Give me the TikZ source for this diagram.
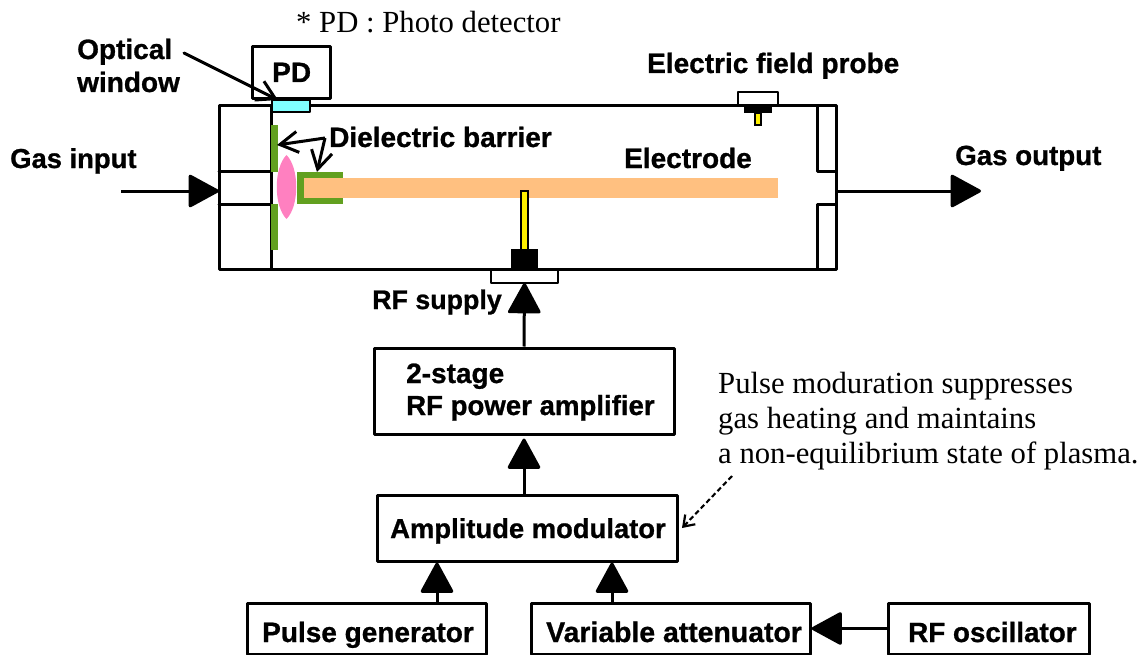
\documentclass[tikz,border=0pt]{standalone}
\usepackage{fontspec}
\setmainfont{Liberation Serif}
\newfontfamily\gothic[FakeBold=0.9]{Liberation Sans Bold}
\usetikzlibrary{arrows.meta,calc}
\definecolor{barrier}{RGB}{98,160,32}
\definecolor{elec}{RGB}{255,192,128}
\definecolor{plasma}{RGB}{255,128,192}
\definecolor{win}{RGB}{128,255,255}
\definecolor{pin}{RGB}{255,240,0}
\tikzset{
 x=1pt,y=-1pt,
 wall/.style={draw=black,line width=3pt,line join=round,line cap=round},
 thinwall/.style={draw=black,line width=2.6pt,line join=round},
 flowline/.style={draw=black,line width=3pt},
 bigtip/.style={-{Triangle[length=32pt,width=34pt,round]}},
 opentip/.style={-{Straight Barb[length=18pt,width=21pt,line width=3pt]}},
 lab/.style={font=\gothic\fontsize{#1}{32}\selectfont,inner sep=0pt,anchor=base west,text=black},
 lab/.default=28,
 note/.style={font=\fontsize{30.7}{35}\selectfont,inner sep=0pt,anchor=base west,text=black},
 blockbox/.style={draw=black,line width=3pt,fill=white,line join=round,inner sep=0pt},
}
\begin{document}
\begin{tikzpicture}
\useasboundingbox (0,0) rectangle (1147,655);
% chamber
\draw[wall] (219,106) rectangle (836,269);
\draw[wall] (271,106) -- (271,269);
\draw[wall] (219,172) -- (271,172);
\draw[wall] (219,204) -- (271,204);
\draw[wall] (817,106) -- (817,172) -- (836,172);
\draw[wall] (817,269) -- (817,204) -- (836,204);
% PD
\node[blockbox,minimum width=78pt,minimum height=52pt] (pd) at (291,73) {};
\draw[thinwall,fill=win] (272,100) rectangle (310,112);
% barrier, electrode, plasma
\fill[barrier] (271,125) rectangle (278,172);
\fill[barrier] (271,204) rectangle (278,250);
\fill[barrier] (297,172) rectangle (343,204);
\fill[elec] (304,178) rectangle (778,198);
\fill[plasma] (286.5,155) .. controls (273.5,168) and (273.5,206) .. (286.5,219) .. controls (299.5,206) and (299.5,168) .. (286.5,155) -- cycle;
% electric field probe
\draw[thinwall] (738,106) -- (738,92) -- (778,92) -- (778,106);
\fill[black] (744,106) rectangle (772,113);
\draw[fill=pin,draw=black,line width=1.8pt] (755,113) rectangle (761,125);
% rf feed
\draw[fill=pin,draw=black,line width=1.8pt] (521,191) rectangle (528,250);
\fill[black] (511,249) rectangle (538,269);
\draw[thinwall] (491,269) -- (491,283) -- (558,283) -- (558,269);
\coordinate (rfin) at (524.5,283);
% boxes
\node[blockbox,minimum width=300pt,minimum height=86pt] (amp) at (524,391) {};
\node[blockbox,minimum width=300pt,minimum height=66pt] (mod) at (527,528) {};
\node[blockbox,minimum width=239pt,minimum height=51pt] (pulse) at (366.5,628.5) {};
\node[blockbox,minimum width=279pt,minimum height=51pt] (att) at (670.5,628.5) {};
\node[blockbox,minimum width=201pt,minimum height=51pt] (osc) at (988.5,628.5) {};
% labels
\node[note] (n1) at (296,33) {* PD : Photo detector};
\node[lab] (pdt) at (272,82) {PD};
\node[lab] (t1) at (77,59) {Optical};
\node[lab] (t2) at (77,92) {window};
\node[lab=27.4] (t3) at (10,168) {Gas input};
\node[lab] (t4) at (329,147) {Dielectric barrier};
\node[lab] (t5) at (624,168) {Electrode};
\node[lab] (t6) at (647,73) {Electric field probe};
\node[lab=27.7] (t7) at (955,165) {Gas output};
\node[lab=26.8] (t8) at (372,309) {RF supply};
\node[lab] (t9) at (406,383) {2-stage};
\node[lab=27.6] (t10) at (406,415) {RF power amplifier};
\node[lab=27.4] (t11) at (390,538) {Amplitude modulator};
\node[lab] (t12) at (262,642) {Pulse generator};
\node[lab=28.4] (t13) at (546,642) {Variable attenuator};
\node[lab=27.8] (t14) at (908,642) {RF oscillator};
\node[note] (n2) at (718,393) {Pulse moduration suppresses};
\node[note] (n3) at (718,428) {gas heating and maintains};
\node[note] (n4) at (718,463) {a non-equilibrium state of plasma.};
% connectors
\coordinate (gi) at (121,191);
\coordinate (gip) at (219,191);
\draw[flowline,bigtip] (gi) -- (gip);
\coordinate (go) at (836,191);
\coordinate (gop) at (981,191);
\draw[flowline,bigtip] (go) -- (gop);
\draw[flowline,bigtip] (amp.north) -- (rfin);
\draw[flowline,bigtip,shorten >=3pt] (mod.north -| amp.south) -- (amp.south);
\draw[flowline,bigtip] (437,0 |- pulse.north) -- (437,0 |- mod.south);
\draw[flowline,bigtip] (612,0 |- att.north) -- (612,0 |- mod.south);
\draw[flowline,bigtip] (osc.west) -- (att.east);
% pointer arrows
\coordinate (owS) at (184,53);
\coordinate (owE) at (278,100);
\draw[flowline,line cap=round,opentip] (owS) -- (owE);
\coordinate (dbJ) at (325,138);
\coordinate (dbA) at (277,145);
\coordinate (dbB) at (317,172);
\draw[flowline,opentip] (dbJ) -- (dbA);
\draw[flowline,opentip] (dbJ) -- (dbB);
\coordinate (pmS) at (732,476);
\coordinate (pmE) at (682,528);
\draw[draw=black,line width=2.1pt,dash pattern=on 5pt off 3pt,-{Straight Barb[length=10pt,width=14pt,line width=2.2pt]}] (pmS) -- (pmE);
\end{tikzpicture}
\end{document}
